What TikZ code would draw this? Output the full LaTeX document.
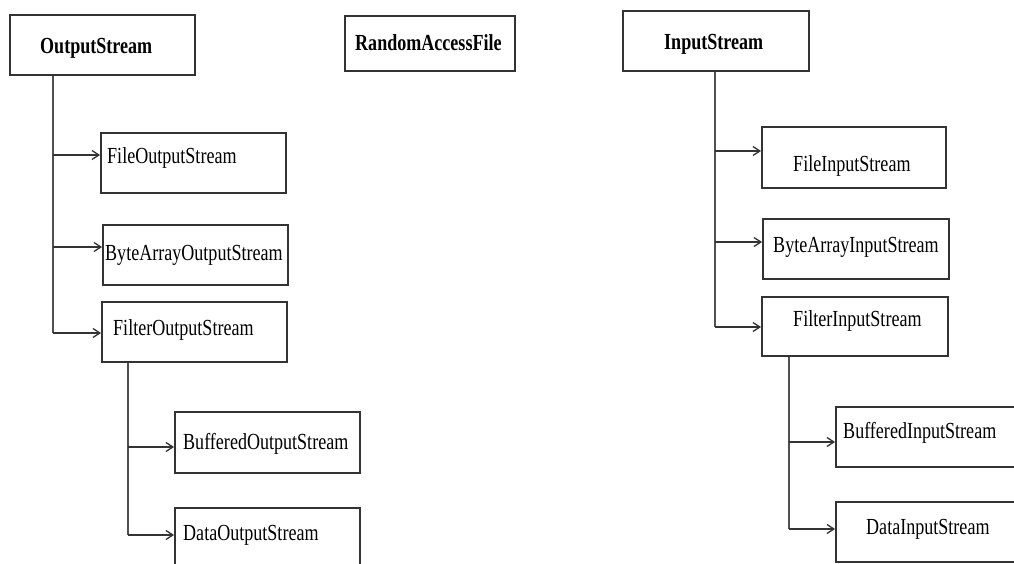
\documentclass[tikz,border=0pt]{standalone}
\usepackage{fontspec}
\setmainfont{Liberation Serif}[FakeStretch=0.785]
\usetikzlibrary{arrows.meta}
\definecolor{boxc}{HTML}{333333}
\definecolor{linec}{HTML}{505050}
\tikzset{
  box/.style={draw=boxc, line width=1.8pt, inner sep=0pt},
  lbl/.style={anchor=base west, inner sep=0pt, font=\fontsize{23}{25}\selectfont},
  blbl/.style={anchor=base west, inner sep=0pt, font=\fontsize{23}{25}\selectfont\bfseries},
  trunk/.style={draw=linec, line width=1.9pt},
  arr/.style={draw=black!80, line width=1.5pt, -{Straight Barb[length=7pt,width=9pt,line width=1.3pt]}},
}
\begin{document}
\begin{tikzpicture}[x=1pt,y=-1pt]
\useasboundingbox (0,0) rectangle (1014,564);
\clip (0,0) rectangle (1014,564);
\fill[white] (0,0) rectangle (1014,564);
% boxes
\node[box, minimum width=185pt, minimum height=60pt] (OS) at (102.5,45) {};
\node[box, minimum width=170pt, minimum height=55pt] (RAF) at (430,43.5) {};
\node[box, minimum width=186pt, minimum height=60pt] (IS) at (716,41) {};
\node[box, minimum width=185pt, minimum height=60pt] (FOS) at (193.5,163) {};
\node[box, minimum width=185pt, minimum height=60pt] (BAOS) at (195.5,255) {};
\node[box, minimum width=185pt, minimum height=60pt] (FiOS) at (194.5,332) {};
\node[box, minimum width=185pt, minimum height=61pt] (BOS) at (267.5,442.5) {};
\node[box, minimum width=185pt, minimum height=92pt] (DOS) at (267.5,554) {};
\node[box, minimum width=184pt, minimum height=61pt] (FIS) at (854,157.5) {};
\node[box, minimum width=186pt, minimum height=60pt] (BAIS) at (856,249) {};
\node[box, minimum width=186pt, minimum height=59pt] (FiIS) at (855,326.5) {};
\node[box, minimum width=190pt, minimum height=60pt] (BIS) at (931,437) {};
\node[box, minimum width=190pt, minimum height=60pt] (DIS) at (931,532) {};
% texts
\node[blbl] (tOS) at (40,54) {OutputStream};
\node[blbl] (tRAF) at (355,51) {RandomAccessFile};
\node[blbl] (tIS) at (664,50) {InputStream};
\node[lbl] (tFOS) at (107,164) {FileOutputStream};
\node[lbl] (tBAOS) at (105,260) {ByteArrayOutputStream};
\node[lbl] (tFiOS) at (113,335) {FilterOutputStream};
\node[lbl] (tBOS) at (183,449) {BufferedOutputStream};
\node[lbl] (tDOS) at (183,540) {DataOutputStream};
\node[lbl] (tFIS) at (793,172) {FileInputStream};
\node[lbl] (tBAIS) at (773,252) {ByteArrayInputStream};
\node[lbl] (tFiIS) at (793,326) {FilterInputStream};
\node[lbl] (tBIS) at (843,438) {BufferedInputStream};
\node[lbl] (tDIS) at (866,534) {DataInputStream};
% trunks
\draw[trunk] (OS.south -| 53,0) -- (53,333);
\draw[trunk] (FiOS.south -| 128,0) -- (128,535);
\draw[trunk] (IS.south -| 715,0) -- (715,327);
\draw[trunk] (FiIS.south -| 789,0) -- (789,529);
% arrows
\draw[arr] (53,155) -- (FOS.west |- 0,155);
\draw[arr] (53,247) -- (BAOS.west |- 0,247);
\draw[arr] (53,333) -- (FiOS.west |- 0,333);
\draw[arr] (128,447) -- (BOS.west |- 0,447);
\draw[arr] (128,535) -- (DOS.west |- 0,535);
\draw[arr] (715,151) -- (FIS.west |- 0,151);
\draw[arr] (715,242) -- (BAIS.west |- 0,242);
\draw[arr] (715,327) -- (FiIS.west |- 0,327);
\draw[arr] (789,442) -- (BIS.west |- 0,442);
\draw[arr] (789,529) -- (DIS.west |- 0,529);
\end{tikzpicture}
\end{document}
